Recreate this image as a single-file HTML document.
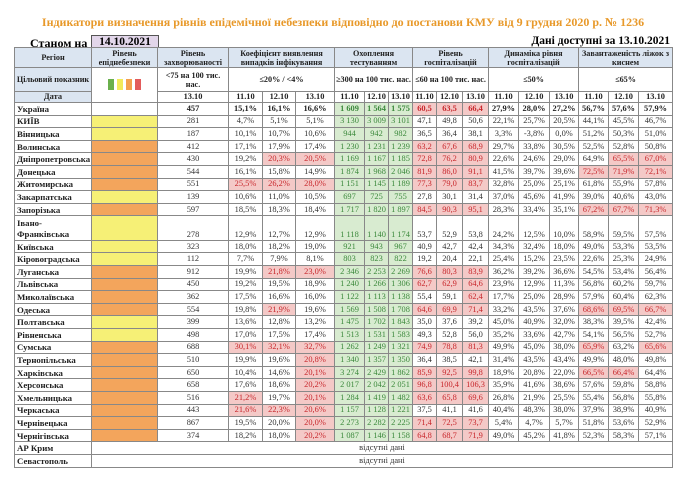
<!DOCTYPE html>
<html><head><meta charset="utf-8"><style>
body{margin:0;width:690px;height:479px;background:#fff;overflow:hidden;font-family:"Liberation Serif","DejaVu Serif",serif;}
.title{position:absolute;left:0;width:686px;top:15px;text-align:center;color:#e8992a;font-weight:bold;font-size:12px;}
.st{position:absolute;left:30px;top:36px;font-weight:bold;font-size:12px;}
.dt{position:absolute;left:91px;top:35px;width:66px;height:12px;background:#e2d6ea;border:1px solid #555;font-weight:bold;font-size:11.5px;text-align:center;line-height:12px;}
.av{position:absolute;left:470px;top:35px;width:200px;text-align:right;font-weight:bold;font-size:11.5px;}
table{position:absolute;left:14px;top:47px;border-collapse:collapse;table-layout:fixed;width:659px;}
td{border:1px solid #888;padding:0;font-size:8.4px;text-align:center;line-height:10px;height:11.6px;overflow:hidden;white-space:nowrap;color:#333;}
tr.h td{font-weight:bold;background:#dbe5f1;color:#222;white-space:normal;line-height:9px;font-size:8.2px;}
tr.h2 td{background:#fff;font-weight:bold;white-space:normal;line-height:9px;font-size:8.2px;color:#222;}
tr.h3 td{font-weight:bold;background:#fff;color:#222;height:10px;}
td.bl{background:#dbe5f1 !important;}
td.n{text-align:left;font-weight:bold;padding-left:2px;color:#222;font-size:8.8px;}
td.y{background:#f6f076;}
td.o{background:#f3a55c;}
td.g{background:#d8ebd0;color:#3d8a3d;}
td.r{background:#f4c9c7;color:#c8282d;}
tr.u td{font-weight:bold;color:#222;}
tr.u td.g{color:#3d8a3d}tr.u td.r{color:#c8282d}
tr.if td{height:23.5px;vertical-align:bottom;}
tr.if td.n{line-height:11px;}
.sq{display:inline-block;width:6px;height:11px;margin:0 1.5px;}
</style></head><body>
<div class="title">Індикатори визначення рівнів епідемічної небезпеки відповідно до постанови КМУ від 9 грудня 2020 р. № 1236</div>
<div class="st">Станом на</div><div class="dt">14.10.2021</div>
<div class="av">Дані доступні за 13.10.2021</div>
<table>
<colgroup><col style="width:77px"><col style="width:66px"><col style="width:71px"><col style="width:34px"><col style="width:33px"><col style="width:39px"><col style="width:30px"><col style="width:24px"><col style="width:24px"><col style="width:24px"><col style="width:26px"><col style="width:26px"><col style="width:30px"><col style="width:31px"><col style="width:29px"><col style="width:30px"><col style="width:30px"><col style="width:34px"></colgroup>
<tr class="h" style="height:20px"><td>Регіон</td><td>Рівень епіднебезпеки</td><td>Рівень захворюваності</td><td colspan="3">Коефіцієнт виявлення випадків інфікування</td><td colspan="3">Охоплення тестуванням</td><td colspan="3">Рівень госпіталізацій</td><td colspan="3">Динаміка рівня госпіталізацій</td><td colspan="3">Завантаженість ліжок з киснем</td></tr>
<tr class="h2" style="height:24px"><td class="bl">Цільовий показник</td><td rowspan="2"><span class="sq" style="background:#6ab04c"></span><span class="sq" style="background:#f2ea5a"></span><span class="sq" style="background:#f3a04e"></span><span class="sq" style="background:#e35b5b"></span></td><td>&lt;75 на 100 тис. нас.</td><td colspan="3">≤20% / &lt;4%</td><td colspan="3">≥300 на 100 тис. нас.</td><td colspan="3">≤60 на 100 тис. нас.</td><td colspan="3">≤50%</td><td colspan="3">≤65%</td></tr>
<tr class="h3"><td class="bl">Дата</td><td>13.10</td><td>11.10</td><td>12.10</td><td>13.10</td><td>11.10</td><td>12.10</td><td>13.10</td><td>11.10</td><td>12.10</td><td>13.10</td><td>11.10</td><td>12.10</td><td>13.10</td><td>11.10</td><td>12.10</td><td>13.10</td></tr>
<tr class="u"><td class="n">Україна</td><td></td><td>457</td><td>15,1%</td><td>16,1%</td><td>16,6%</td><td class="g">1 609</td><td class="g">1 564</td><td class="g">1 575</td><td class="r">60,5</td><td class="r">63,5</td><td class="r">66,4</td><td>27,9%</td><td>28,0%</td><td>27,2%</td><td>56,7%</td><td>57,6%</td><td>57,9%</td></tr>
<tr><td class="n">КИЇВ</td><td class="y"></td><td>281</td><td>4,7%</td><td>5,1%</td><td>5,1%</td><td class="g">3 130</td><td class="g">3 009</td><td class="g">3 101</td><td>47,1</td><td>49,8</td><td>50,6</td><td>22,1%</td><td>25,7%</td><td>20,5%</td><td>44,1%</td><td>45,5%</td><td>46,7%</td></tr>
<tr><td class="n">Вінницька</td><td class="y"></td><td>187</td><td>10,1%</td><td>10,7%</td><td>10,6%</td><td class="g">944</td><td class="g">942</td><td class="g">982</td><td>36,5</td><td>36,4</td><td>38,1</td><td>3,3%</td><td>-3,8%</td><td>0,0%</td><td>51,2%</td><td>50,3%</td><td>51,0%</td></tr>
<tr><td class="n">Волинська</td><td class="o"></td><td>412</td><td>17,1%</td><td>17,9%</td><td>17,4%</td><td class="g">1 230</td><td class="g">1 231</td><td class="g">1 239</td><td class="r">63,2</td><td class="r">67,6</td><td class="r">68,9</td><td>29,7%</td><td>33,8%</td><td>30,5%</td><td>52,5%</td><td>52,8%</td><td>50,8%</td></tr>
<tr><td class="n">Дніпропетровська</td><td class="o"></td><td>430</td><td>19,2%</td><td class="r">20,3%</td><td class="r">20,5%</td><td class="g">1 169</td><td class="g">1 167</td><td class="g">1 185</td><td class="r">72,8</td><td class="r">76,2</td><td class="r">80,9</td><td>22,6%</td><td>24,6%</td><td>29,0%</td><td>64,9%</td><td class="r">65,5%</td><td class="r">67,0%</td></tr>
<tr><td class="n">Донецька</td><td class="o"></td><td>544</td><td>16,1%</td><td>15,8%</td><td>14,9%</td><td class="g">1 874</td><td class="g">1 968</td><td class="g">2 046</td><td class="r">81,9</td><td class="r">86,0</td><td class="r">91,1</td><td>41,5%</td><td>39,7%</td><td>39,6%</td><td class="r">72,5%</td><td class="r">71,9%</td><td class="r">72,1%</td></tr>
<tr><td class="n">Житомирська</td><td class="o"></td><td>551</td><td class="r">25,5%</td><td class="r">26,2%</td><td class="r">28,0%</td><td class="g">1 151</td><td class="g">1 145</td><td class="g">1 189</td><td class="r">77,3</td><td class="r">79,0</td><td class="r">83,7</td><td>32,8%</td><td>25,0%</td><td>25,1%</td><td>61,8%</td><td>55,9%</td><td>57,8%</td></tr>
<tr><td class="n">Закарпатська</td><td class="y"></td><td>139</td><td>10,6%</td><td>11,0%</td><td>10,5%</td><td class="g">697</td><td class="g">725</td><td class="g">755</td><td>27,8</td><td>30,1</td><td>31,4</td><td>37,0%</td><td>45,6%</td><td>41,9%</td><td>39,0%</td><td>40,6%</td><td>43,0%</td></tr>
<tr><td class="n">Запорізька</td><td class="o"></td><td>597</td><td>18,5%</td><td>18,3%</td><td>18,4%</td><td class="g">1 717</td><td class="g">1 820</td><td class="g">1 897</td><td class="r">84,5</td><td class="r">90,3</td><td class="r">95,1</td><td>28,3%</td><td>33,4%</td><td>35,1%</td><td class="r">67,2%</td><td class="r">67,7%</td><td class="r">71,3%</td></tr>
<tr class="if"><td class="n">Івано-<br>Франківська</td><td class="y"></td><td>278</td><td>12,9%</td><td>12,7%</td><td>12,9%</td><td class="g">1 118</td><td class="g">1 140</td><td class="g">1 174</td><td>53,7</td><td>52,9</td><td>53,8</td><td>24,2%</td><td>12,5%</td><td>10,0%</td><td>58,9%</td><td>59,5%</td><td>57,5%</td></tr>
<tr><td class="n">Київська</td><td class="y"></td><td>323</td><td>18,0%</td><td>18,2%</td><td>19,0%</td><td class="g">921</td><td class="g">943</td><td class="g">967</td><td>40,9</td><td>42,7</td><td>42,4</td><td>34,3%</td><td>32,4%</td><td>18,0%</td><td>49,0%</td><td>53,3%</td><td>53,5%</td></tr>
<tr><td class="n">Кіровоградська</td><td class="y"></td><td>112</td><td>7,7%</td><td>7,9%</td><td>8,1%</td><td class="g">803</td><td class="g">823</td><td class="g">822</td><td>19,2</td><td>20,4</td><td>22,1</td><td>25,4%</td><td>15,2%</td><td>23,5%</td><td>22,6%</td><td>25,3%</td><td>24,9%</td></tr>
<tr><td class="n">Луганська</td><td class="o"></td><td>912</td><td>19,9%</td><td class="r">21,8%</td><td class="r">23,0%</td><td class="g">2 346</td><td class="g">2 253</td><td class="g">2 269</td><td class="r">76,6</td><td class="r">80,3</td><td class="r">83,9</td><td>36,2%</td><td>39,2%</td><td>36,6%</td><td>54,5%</td><td>53,4%</td><td>56,4%</td></tr>
<tr><td class="n">Львівська</td><td class="o"></td><td>450</td><td>19,2%</td><td>19,5%</td><td>18,9%</td><td class="g">1 240</td><td class="g">1 266</td><td class="g">1 306</td><td class="r">62,7</td><td class="r">62,9</td><td class="r">64,6</td><td>23,9%</td><td>12,9%</td><td>11,3%</td><td>56,8%</td><td>60,2%</td><td>59,7%</td></tr>
<tr><td class="n">Миколаївська</td><td class="o"></td><td>362</td><td>17,5%</td><td>16,6%</td><td>16,0%</td><td class="g">1 122</td><td class="g">1 113</td><td class="g">1 138</td><td>55,4</td><td>59,1</td><td class="r">62,4</td><td>17,7%</td><td>25,0%</td><td>28,9%</td><td>57,9%</td><td>60,4%</td><td>62,3%</td></tr>
<tr><td class="n">Одеська</td><td class="o"></td><td>554</td><td>19,8%</td><td class="r">21,9%</td><td>19,6%</td><td class="g">1 569</td><td class="g">1 508</td><td class="g">1 708</td><td class="r">64,6</td><td class="r">69,9</td><td class="r">71,4</td><td>33,2%</td><td>43,5%</td><td>37,6%</td><td class="r">68,6%</td><td class="r">69,5%</td><td class="r">66,7%</td></tr>
<tr><td class="n">Полтавська</td><td class="y"></td><td>399</td><td>13,6%</td><td>12,8%</td><td>13,2%</td><td class="g">1 475</td><td class="g">1 702</td><td class="g">1 843</td><td>35,0</td><td>37,6</td><td>39,2</td><td>45,0%</td><td>40,9%</td><td>32,0%</td><td>38,3%</td><td>39,5%</td><td>42,4%</td></tr>
<tr><td class="n">Рівненська</td><td class="y"></td><td>498</td><td>17,0%</td><td>17,5%</td><td>17,4%</td><td class="g">1 513</td><td class="g">1 531</td><td class="g">1 583</td><td>49,3</td><td>52,8</td><td>56,0</td><td>35,2%</td><td>33,6%</td><td>42,7%</td><td>54,1%</td><td>56,5%</td><td>52,7%</td></tr>
<tr><td class="n">Сумська</td><td class="o"></td><td>688</td><td class="r">30,1%</td><td class="r">32,1%</td><td class="r">32,7%</td><td class="g">1 262</td><td class="g">1 249</td><td class="g">1 321</td><td class="r">74,9</td><td class="r">78,8</td><td class="r">81,3</td><td>49,9%</td><td>45,0%</td><td>38,0%</td><td class="r">65,9%</td><td>63,2%</td><td class="r">65,6%</td></tr>
<tr><td class="n">Тернопільська</td><td class="o"></td><td>510</td><td>19,9%</td><td>19,6%</td><td class="r">20,8%</td><td class="g">1 340</td><td class="g">1 357</td><td class="g">1 350</td><td>36,4</td><td>38,5</td><td>42,1</td><td>31,4%</td><td>43,5%</td><td>43,4%</td><td>49,9%</td><td>48,0%</td><td>49,8%</td></tr>
<tr><td class="n">Харківська</td><td class="o"></td><td>650</td><td>10,4%</td><td>14,6%</td><td class="r">20,1%</td><td class="g">3 274</td><td class="g">2 429</td><td class="g">1 862</td><td class="r">85,9</td><td class="r">92,5</td><td class="r">99,8</td><td>18,9%</td><td>20,8%</td><td>22,0%</td><td class="r">66,5%</td><td class="r">66,4%</td><td>64,4%</td></tr>
<tr><td class="n">Херсонська</td><td class="o"></td><td>658</td><td>17,6%</td><td>18,6%</td><td class="r">20,2%</td><td class="g">2 017</td><td class="g">2 042</td><td class="g">2 051</td><td class="r">96,8</td><td class="r">100,4</td><td class="r">106,3</td><td>35,9%</td><td>41,6%</td><td>38,6%</td><td>57,6%</td><td>59,8%</td><td>58,8%</td></tr>
<tr><td class="n">Хмельницька</td><td class="o"></td><td>516</td><td class="r">21,2%</td><td>19,7%</td><td class="r">20,1%</td><td class="g">1 284</td><td class="g">1 419</td><td class="g">1 482</td><td class="r">63,6</td><td class="r">65,8</td><td class="r">69,6</td><td>26,8%</td><td>21,9%</td><td>25,5%</td><td>55,4%</td><td>56,8%</td><td>55,8%</td></tr>
<tr><td class="n">Черкаська</td><td class="o"></td><td>443</td><td class="r">21,6%</td><td class="r">22,3%</td><td class="r">20,6%</td><td class="g">1 157</td><td class="g">1 128</td><td class="g">1 221</td><td>37,5</td><td>41,1</td><td>41,6</td><td>40,4%</td><td>48,3%</td><td>38,0%</td><td>37,9%</td><td>38,9%</td><td>40,9%</td></tr>
<tr><td class="n">Чернівецька</td><td class="o"></td><td>867</td><td>19,5%</td><td>20,0%</td><td class="r">20,0%</td><td class="g">2 273</td><td class="g">2 282</td><td class="g">2 225</td><td class="r">71,4</td><td class="r">72,5</td><td class="r">73,7</td><td>5,4%</td><td>4,7%</td><td>5,7%</td><td>51,8%</td><td>53,6%</td><td>52,9%</td></tr>
<tr><td class="n">Чернігівська</td><td class="o"></td><td>374</td><td>18,2%</td><td>18,0%</td><td class="r">20,2%</td><td class="g">1 087</td><td class="g">1 146</td><td class="g">1 158</td><td class="r">64,8</td><td class="r">68,7</td><td class="r">71,9</td><td>49,0%</td><td>45,2%</td><td>41,8%</td><td>52,3%</td><td>58,3%</td><td>57,1%</td></tr>
<tr><td class="n">АР Крим</td><td colspan="17">відсутні дані</td></tr>
<tr><td class="n">Севастополь</td><td colspan="17">відсутні дані</td></tr>
</table>
</body></html>
